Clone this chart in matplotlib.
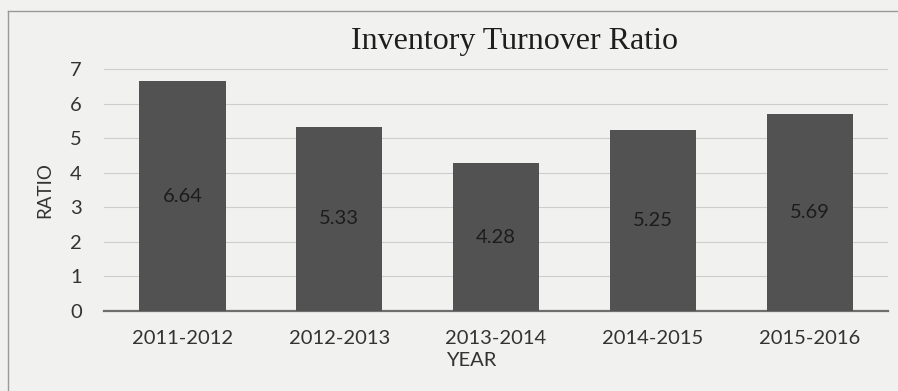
import matplotlib.pyplot as plt
from matplotlib.lines import Line2D

years = ["2011-2012", "2012-2013", "2013-2014", "2014-2015", "2015-2016"]
ratios = [6.64, 5.33, 4.28, 5.25, 5.69]
y_ticks = [0, 1, 2, 3, 4, 5, 6, 7]

label_font = "Lato"
bg = "#f1f1f0"

fig = plt.figure(figsize=(8.98, 3.91), dpi=100, facecolor=bg)
ax = fig.add_axes([0.1158, 0.2046, 0.8731, 0.6189])
ax.set_facecolor(bg)

x = list(range(len(years)))
bars = ax.bar(x, ratios, width=0.55, color="#525252", zorder=3)

# value labels sit in the middle of each bar
for xi, v in zip(x, ratios):
    ax.text(xi, v / 2, f"{v:.2f}", ha="center", va="center",
            fontsize=14.5, family=label_font, color="#1c1c1c", zorder=4)

ax.set_xlim(-0.5, len(years) - 0.5)
ax.set_ylim(0, 7)
ax.set_yticks(y_ticks)
ax.set_xticks(x)
ax.set_xticklabels(years)
ax.yaxis.grid(True, color="#cdcdcd", linewidth=0.8, zorder=0)

for side in ["top", "right", "left"]:
    ax.spines[side].set_visible(False)
ax.spines["bottom"].set_color("#6e6e6e")
ax.spines["bottom"].set_linewidth(1.6)

ax.tick_params(axis="both", length=0, labelsize=14.5, colors="#333333")
ax.tick_params(axis="y", pad=16)
ax.tick_params(axis="x", pad=14)
for lbl in ax.get_xticklabels() + ax.get_yticklabels():
    lbl.set_family(label_font)

fig.text(0.573, 0.893, "Inventory Turnover Ratio", ha="center", va="center",
         fontsize=23, family="Liberation Serif", color="#1e1e1e")
fig.text(0.525, 0.079, "YEAR", ha="center", va="center",
         fontsize=14.5, family=label_font, color="#333333")
fig.text(0.05, 0.514, "RATIO", ha="center", va="center", rotation=90,
         fontsize=13.5, family=label_font, color="#333333")

# chart border running off the page on the right and bottom
fig.add_artist(Line2D([0.009, 1.0], [0.972, 0.972], transform=fig.transFigure,
                      color="#9a9a9a", linewidth=1.0))
fig.add_artist(Line2D([0.009, 0.009], [0.0, 0.972], transform=fig.transFigure,
                      color="#9a9a9a", linewidth=1.0))

fig.savefig("out.png", dpi=100, facecolor=bg)
